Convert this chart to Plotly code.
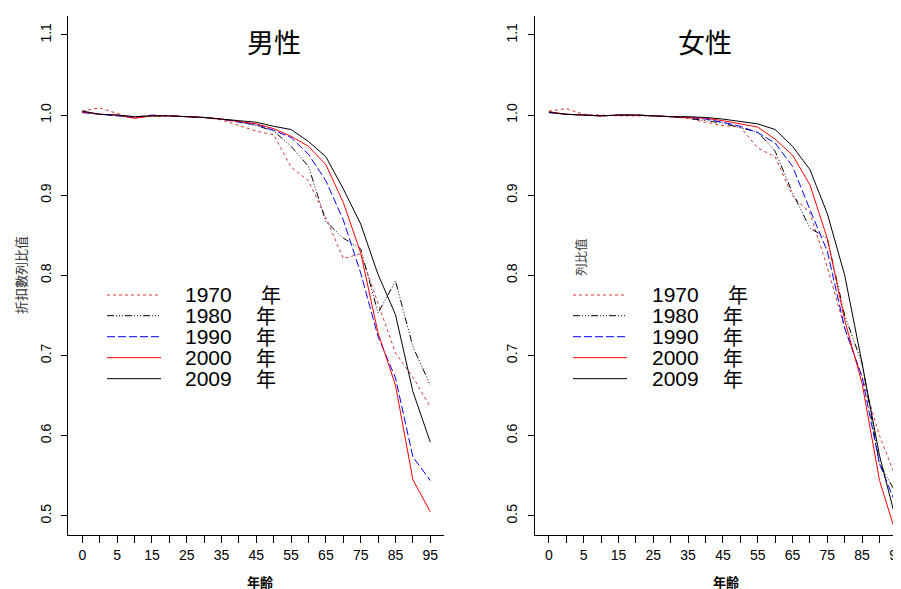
import plotly.graph_objects as go

# ---------------- data ----------------
age_labels = ["0", "1", "5", "10", "15", "20", "25", "30", "35", "40", "45",
              "50", "55", "60", "65", "70", "75", "80", "85", "90", "95"]
years = ["1970", "1980", "1990", "2000", "2009"]

male_1970 = [1.005, 1.009, 1.002, 0.996, 0.999, 0.999, 0.998, 0.997, 0.994, 0.987, 0.980,
             0.9755, 0.935, 0.918, 0.872, 0.821, 0.827, 0.765, 0.703, 0.673, 0.636]
male_1980 = [1.004, 1.001, 1.000, 0.998, 0.999, 0.999, 0.998, 0.997, 0.995, 0.992, 0.987,
             0.980, 0.961, 0.936, 0.867, 0.8465, 0.833, 0.753, 0.793, 0.711, 0.663]
male_1990 = [1.003, 1.001, 0.999, 0.997, 1.000, 0.999, 0.998, 0.997, 0.995, 0.991, 0.988,
             0.981, 0.972, 0.951, 0.918, 0.869, 0.803, 0.7235, 0.672, 0.5735, 0.544]
male_2000 = [1.004, 1.001, 1.000, 0.996, 0.999, 0.999, 0.998, 0.997, 0.995, 0.992, 0.989,
             0.983, 0.9735, 0.961, 0.938, 0.891, 0.828, 0.728, 0.663, 0.545, 0.505]
male_2009 = [1.005, 1.001, 1.000, 0.998, 0.999, 0.999, 0.998, 0.997, 0.995, 0.993, 0.991,
             0.986, 0.982, 0.967, 0.948, 0.908, 0.864, 0.801, 0.751, 0.655, 0.592]

female_1970 = [1.005, 1.008, 1.001, 1.000, 0.999, 0.999, 0.999, 0.998, 0.996, 0.991, 0.987,
               0.985, 0.959, 0.948, 0.899, 0.878, 0.810, 0.734, 0.673, 0.600, 0.544]
female_1980 = [1.004, 1.001, 1.000, 0.999, 1.000, 1.000, 0.999, 0.998, 0.996, 0.993, 0.990,
               0.984, 0.979, 0.955, 0.903, 0.859, 0.846, 0.750, 0.690, 0.565, 0.526]
female_1990 = [1.003, 1.001, 1.000, 0.999, 1.000, 1.000, 0.999, 0.998, 0.997, 0.995, 0.991,
               0.986, 0.978, 0.965, 0.936, 0.882, 0.830, 0.734, 0.673, 0.565, 0.511]
female_2000 = [1.004, 1.001, 1.000, 0.999, 1.000, 1.000, 0.999, 0.998, 0.997, 0.996, 0.993,
               0.989, 0.985, 0.970, 0.950, 0.913, 0.846, 0.744, 0.665, 0.544, 0.474]
female_2009 = [1.0035, 1.001, 1.000, 0.999, 1.000, 1.000, 0.999, 0.998, 0.998, 0.997, 0.995,
               0.992, 0.989, 0.982, 0.961, 0.932, 0.877, 0.800, 0.690, 0.575, 0.490]

y_ticks = [0.5, 0.6, 0.7, 0.8, 0.9, 1.0, 1.1]
y_tick_text = ["0.5", "0.6", "0.7", "0.8", "0.9", "1.0", "1.1"]

# ---------------- styling ----------------
PAGE_W, PAGE_H = 901, 589
OFF = 8  # default page body margin
W, H = PAGE_W - OFF, PAGE_H - OFF
FONT = "Liberation Sans, Arial, Noto Sans CJK JP, sans-serif"
CJK = "Noto Sans CJK JP, Noto Sans CJK SC, sans-serif"

styles = [
    dict(color="#DD3333", dash="3px,3px"),
    dict(color="#000000", dash="7px,2px,1px,2px,1px,2px,1px,2px"),
    dict(color="#0000FF", dash="8px,3px"),
    dict(color="#FF0000", dash="solid"),
    dict(color="#000000", dash="solid"),
]

male = [male_1970, male_1980, male_1990, male_2000, male_2009]
female = [female_1970, female_1980, female_1990, female_2000, female_2009]

idx = list(range(len(age_labels)))

fig = go.Figure()
for series, xa, ya in [(male, "x", "y"), (female, "x2", "y2")]:
    for yr, vals, st in zip(years, series, styles):
        fig.add_trace(go.Scatter(
            x=idx, y=vals, mode="lines", name=yr + "年",
            xaxis=xa, yaxis=ya, showlegend=False,
            line=dict(color=st["color"], dash=st["dash"], width=1),
            hoverinfo="skip"))

# page pixel -> paper fraction
def px(x):
    return (x - OFF) / W

def py(y):
    return 1 - (y - OFF) / H

tick_text = [lab if i % 2 == 0 else "" for i, lab in enumerate(age_labels)]

xcommon = dict(tickmode="array", tickvals=idx, ticktext=tick_text, automargin=False,
               showline=True, linecolor="black", linewidth=1, mirror=False,
               showgrid=False, zeroline=False, ticks="outside", ticklen=7,
               tickcolor="black", tickwidth=1, ticklabeloverflow="allow",
               tickfont=dict(family=FONT, size=14, color="black"))
ycommon = dict(tickmode="array", tickvals=y_ticks, ticktext=y_tick_text, automargin=False,
               range=[0.5 - 0.024, 1.1 + 0.024],
               showline=True, linecolor="black", linewidth=1, mirror=False,
               showgrid=False, zeroline=False, ticks="outside", ticklen=6,
               tickcolor="black", tickwidth=1, tickangle=-90, ticklabelstandoff=5,
               tickfont=dict(family=FONT, size=14, color="black"))

ydom = [py(535), py(15.7)]
right_range_end = -0.8 + (PAGE_W - 535) / 17.4
fig.update_layout(
    width=W, height=H,
    margin=dict(l=0, r=0, t=0, b=0, autoexpand=False),
    paper_bgcolor="white", plot_bgcolor="white",
    xaxis=dict(domain=[px(68.4), px(444.2)], range=[-0.8, 20.8], anchor="y", **xcommon),
    yaxis=dict(domain=ydom, anchor="x", **ycommon),
    xaxis2=dict(domain=[px(535), 1.0], range=[-0.8, right_range_end], anchor="y2", **xcommon),
    yaxis2=dict(domain=ydom, anchor="x2", **ycommon),
)

annotations = []
shapes = []

def text(x, y, s, size, family=CJK, angle=0, xanchor="center", color="black"):
    annotations.append(dict(x=px(x), y=py(y), xref="paper", yref="paper", text=s,
                            showarrow=False, font=dict(family=family, size=size, color=color),
                            textangle=angle, xanchor=xanchor, yanchor="middle"))

# titles
text(274, 41, "男性", 27)
text(705, 41, "女性", 27)
# axis titles
text(260, 581, "<b>年齢</b>", 13)
text(726, 581, "<b>年齢</b>", 13)
text(20, 275, "折扣數列比值", 13, angle=-90, color="#333333")
text(580, 257, "列比值", 12.5, angle=-90, color="#333333")

# legends
row_y = [295, 315.7, 336.7, 357.7, 378.7]
for x0, x1, tx in [(107, 161, 183), (573, 627, 650)]:
    for k, (yr, st) in enumerate(zip(years, styles)):
        yy = row_y[k]
        shapes.append(dict(type="line", xref="paper", yref="paper",
                           x0=px(x0), x1=px(x1), y0=py(yy), y1=py(yy),
                           line=dict(color=st["color"], dash=st["dash"], width=1)))
        text(tx, yy, yr, 21, family=FONT, xanchor="left")
        text(tx + (76 if k == 0 else 70.5), yy, "年", 20, xanchor="left")

fig.update_layout(annotations=annotations, shapes=shapes)

fig.write_html("out.html")
